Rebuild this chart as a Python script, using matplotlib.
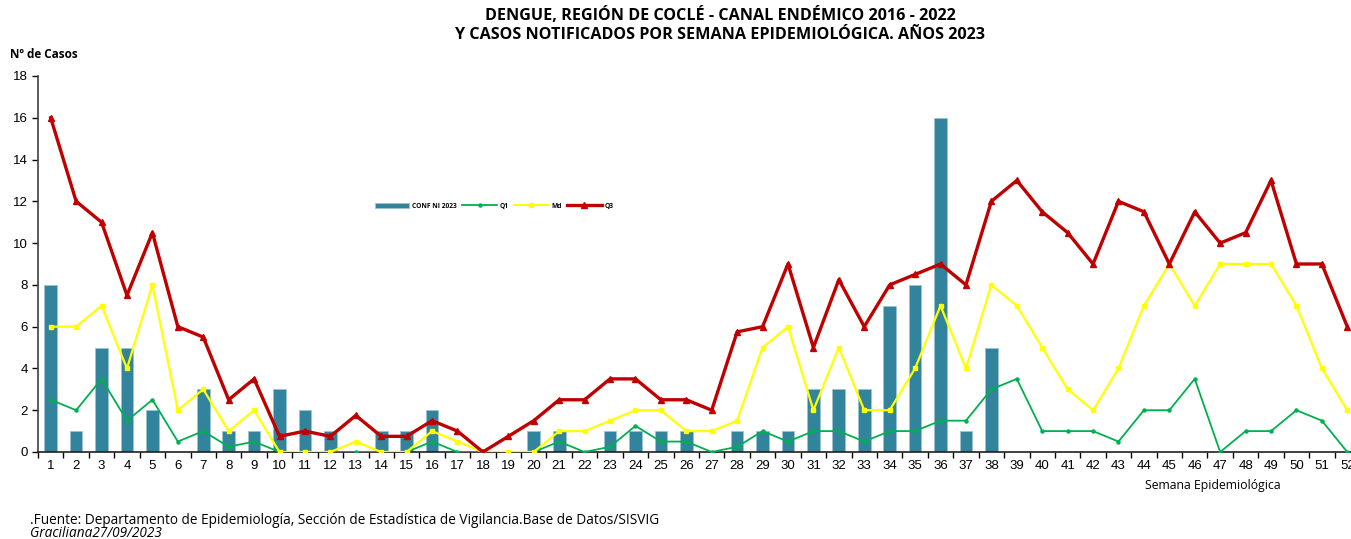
import matplotlib
matplotlib.use("Agg")
import matplotlib.pyplot as plt
import numpy as np

weeks = list(range(1, 53))
conf_2023 = [8, 1, 5, 5, 2, 0, 3, 1, 1, 3, 2, 1, 0, 1, 1, 2, 0, 0, 0, 1,
             1, 0, 1, 1, 1, 1, 0, 1, 1, 1, 3, 3, 3, 7, 8, 16, 1, 5]
q1 = [2.5, 2, 3.5, 1.5, 2.5, 0.5, 1, 0.25, 0.5, 0, 0, 0, 0, 0, 0, 0.5, 0, 0, 0, 0,
      0.5, 0, 0.25, 1.25, 0.5, 0.5, 0, 0.25, 1, 0.5, 1, 1, 0.5, 1, 1, 1.5, 1.5, 3,
      3.5, 1, 1, 1, 0.5, 2, 2, 3.5, 0, 1, 1, 2, 1.5, 0]
md = [6, 6, 7, 4, 8, 2, 3, 1, 2, 0, 0, 0, 0.5, 0, 0, 1, 0.5, 0, 0, 0,
      1, 1, 1.5, 2, 2, 1, 1, 1.5, 5, 6, 2, 5, 2, 2, 4, 7, 4, 8,
      7, 5, 3, 2, 4, 7, 9, 7, 9, 9, 9, 7, 4, 2]
q3 = [16, 12, 11, 7.5, 10.5, 6, 5.5, 2.5, 3.5, 0.75, 1, 0.75, 1.75, 0.75, 0.75, 1.5, 1, 0, 0.75, 1.5,
      2.5, 2.5, 3.5, 3.5, 2.5, 2.5, 2, 5.75, 6, 9, 5, 8.25, 6, 8, 8.5, 9, 8, 12,
      13, 11.5, 10.5, 9, 12, 11.5, 9, 11.5, 10, 10.5, 13, 9, 9, 6]

title = "DENGUE, REGIÓN DE COCLÉ - CANAL ENDÉMICO 2016 - 2022\nY CASOS NOTIFICADOS POR SEMANA EPIDEMIOLÓGICA. AÑOS 2023"

fig = plt.figure(figsize=(13.51, 5.39), dpi=100)
ax = fig.add_axes([38/1351, (539-452)/539, (1360-38)/1351, (452-76)/539])

bar_color = "#31849B"
hb = ax.bar(weeks[:len(conf_2023)], conf_2023, width=0.5, color=bar_color,
            edgecolor="#9CC3CF", linewidth=0.6, label="CONF NI 2023", zorder=2)
h1, = ax.plot(weeks, q1, color="#00B050", lw=1.3, marker="o", ms=2.2, label="Q1", zorder=3)
h2, = ax.plot(weeks, md, color="#FFFF00", lw=1.6, marker="s", ms=3, label="Md", zorder=4)
h3, = ax.plot(weeks, q3, color="#C00000", lw=2.4, marker="^", ms=4, label="Q3", zorder=5)

ax.set_xlim(0.5, 52.5)
ax.set_ylim(0, 18)
ax.set_yticks(range(0, 19, 2))
ax.set_xticks(weeks)
ax.set_xticklabels([str(w) for w in weeks], family="Liberation Sans", fontsize=9.5)
ax.set_xticks(np.arange(0.5, 53, 1), minor=True)
ax.tick_params(axis="x", which="major", length=0, pad=6)
ax.tick_params(axis="x", which="minor", length=4, direction="out", width=1)
ax.tick_params(axis="y", length=4, direction="out", width=1)
for lab in ax.get_yticklabels():
    lab.set_family("Liberation Sans")
    lab.set_fontsize(9.5)
ax.spines["top"].set_visible(False)
ax.spines["right"].set_visible(False)
ax.spines["left"].set_color("#404040")
ax.spines["bottom"].set_color("#202020")
ax.spines["left"].set_linewidth(1.2)
ax.spines["bottom"].set_linewidth(1.2)

leg = fig.legend([hb, h1, h2, h3], ["CONF NI 2023", "Q1", "Md", "Q3"],
                 ncol=4, loc="center", bbox_to_anchor=(494/1351, (539-206)/539),
                 frameon=False,
                 prop={"family": "Open Sans", "weight": "bold", "size": 4.8},
                 handlelength=5.2, columnspacing=0.8, handletextpad=0.4)

fig.text(720/1351, 1 - 25/539, title, ha="center", va="center", family="Open Sans",
         weight="bold", fontsize=11.6, linespacing=1.25)
fig.text(10/1351, 1 - 55/539, "Nº de Casos", ha="left", va="center", family="Open Sans",
         weight="bold", fontsize=8.5)
fig.text(1213/1351, 1 - 486/539, "Semana Epidemiológica", ha="center", va="center",
         family="Open Sans", fontsize=8.8)
fig.text(30/1351, 1 - 520/539,
         ".Fuente: Departamento de Epidemiología, Sección de Estadística de Vigilancia.Base de Datos/SISVIG",
         ha="left", va="center", family="Open Sans", fontsize=9.8)
fig.text(30/1351, 1 - 533.5/539, "Graciliana27/09/2023", ha="left", va="center",
         family="Open Sans", style="italic", fontsize=9.8)

fig.savefig("out.png", dpi=100)
